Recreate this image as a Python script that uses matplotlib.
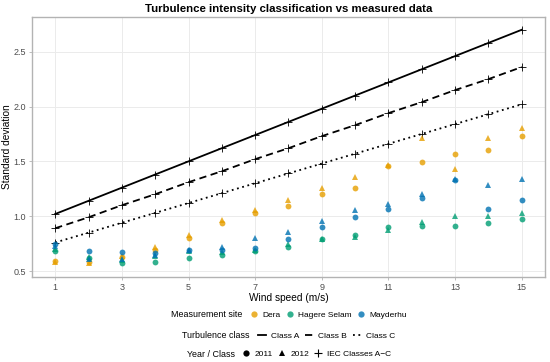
import matplotlib
matplotlib.use("Agg")
import matplotlib.pyplot as plt
from matplotlib.lines import Line2D
from matplotlib.offsetbox import HPacker

plt.rcParams['font.family'] = ['Liberation Sans', 'DejaVu Sans']

wind = [1, 2, 3, 4, 5, 6, 7, 8, 9, 10, 11, 12, 13, 14, 15]

# IEC reference curves
class_a = [1.02, 1.14, 1.26, 1.38, 1.50, 1.62, 1.74, 1.86, 1.98, 2.10, 2.22, 2.34, 2.46, 2.58, 2.70]
class_b = [0.89, 0.99, 1.10, 1.20, 1.31, 1.41, 1.52, 1.62, 1.73, 1.83, 1.94, 2.04, 2.15, 2.25, 2.36]
class_c = [0.76, 0.85, 0.94, 1.03, 1.12, 1.21, 1.30, 1.39, 1.48, 1.57, 1.66, 1.75, 1.84, 1.93, 2.02]

# measured standard deviation per site and year
dera_2011 = [0.59, 0.58, 0.63, 0.69, 0.80, 0.935, 1.025, 1.09, 1.20, 1.26, 1.46, 1.49, 1.57, 1.60, 1.73]
dera_2012 = [0.58, 0.57, 0.64, 0.72, 0.83, 0.965, 1.06, 1.15, 1.26, 1.36, 1.47, 1.71, 1.43, 1.71, 1.80]
hs_2011 = [0.68, 0.62, 0.57, 0.58, 0.615, 0.65, 0.68, 0.715, 0.79, 0.83, 0.90, 0.91, 0.91, 0.935, 0.97]
hs_2012 = [0.70, 0.63, 0.60, 0.64, 0.68, 0.67, 0.69, 0.745, 0.79, 0.81, 0.875, 0.95, 1.00, 1.00, 1.025]
may_2011 = [0.75, 0.68, 0.67, 0.66, 0.69, 0.69, 0.71, 0.79, 0.905, 0.99, 1.065, 1.17, 1.33, 1.065, 1.145]
may_2012 = [0.73, 0.61, 0.61, 0.65, 0.69, 0.715, 0.805, 0.855, 0.955, 1.055, 1.11, 1.20, 1.335, 1.285, 1.34]

sites = ['Dera', 'Hagere Selam', 'Mayderhu']
colors = {'Dera': '#E69F00', 'Hagere Selam': '#009E73', 'Mayderhu': '#0072B2'}
measured = {
    'Dera': (dera_2011, dera_2012),
    'Hagere Selam': (hs_2011, hs_2012),
    'Mayderhu': (may_2011, may_2012),
}

fig = plt.figure(figsize=(5.5, 3.62), dpi=100)
ax = fig.add_axes([0.058, 0.2356, 0.933, 0.7164])

ax.plot(wind, class_a, color='black', lw=1.3, ls='-', marker='+', ms=6, mew=0.6)
ax.plot(wind, class_b, color='black', lw=1.3, ls=(0, (4, 2.5)), marker='+', ms=6, mew=0.6)
ax.plot(wind, class_c, color='black', lw=1.3, ls=(0, (1, 2)), marker='+', ms=6, mew=0.6)

for s in sites:
    y11, y12 = measured[s]
    ax.plot(wind, y11, 'o', color=colors[s], alpha=0.8, ms=4.2, mew=0, ls='none')
    ax.plot(wind, y12, '^', color=colors[s], alpha=0.8, ms=4.8, mew=0, ls='none')

ax.set_xlim(0.3, 15.7)
ax.set_ylim(0.448, 2.813)
ax.set_xticks([1, 3, 5, 7, 9, 11, 13, 15])
ax.set_yticks([0.5, 1.0, 1.5, 2.0, 2.5])
ax.set_yticklabels(['0.5', '1.0', '1.5', '2.0', '2.5'])
ax.grid(True, color='#EBEBEB', lw=0.7)
ax.set_axisbelow(True)
for sp in ax.spines.values():
    sp.set_color('#B3B3B3')
    sp.set_linewidth(1.0)
ax.tick_params(length=2.5, width=0.6, color='#B3B3B3', labelsize=6.5,
               labelcolor='#4D4D4D', pad=2)

ax.set_xlabel('Wind speed (m/s)', fontsize=7.3, labelpad=1)
ax.set_ylabel('Standard deviation', fontsize=7.3)
ax.yaxis.set_label_coords(-0.039, 0.5)
ax.set_title('Turbulence intensity classification vs measured data',
             fontsize=8.2, fontweight='bold', pad=4)


def legend_row(handles, labels, title, y, hl):
    leg = fig.legend(handles, labels, title=title, ncol=len(handles), loc='center',
                     bbox_to_anchor=(0.525, y), frameon=False, fontsize=6,
                     title_fontsize=6.4, handlelength=hl, handletextpad=0.6,
                     columnspacing=0.7, borderaxespad=0, borderpad=0)
    # put the legend title to the left of the keys, ggplot style
    vp = leg._legend_box
    hp = HPacker(pad=0, sep=6, align='center', children=vp.get_children())
    hp.set_figure(fig)
    hp.set_offset(leg._findoffset)
    leg._legend_box = hp
    return leg


site_handles = [Line2D([], [], marker='o', ls='none', color=colors[s], alpha=0.8, ms=4.5, mew=0)
                for s in sites]
legend_row(site_handles, sites, 'Measurement site', 0.13, 0.8)

class_handles = [Line2D([], [], color='black', lw=1.3, ls='-'),
                 Line2D([], [], color='black', lw=1.3, ls=(0, (4, 2.5))),
                 Line2D([], [], color='black', lw=1.3, ls=(0, (1, 2)))]
legend_row(class_handles, ['Class A', 'Class B', 'Class C'], 'Turbulence class', 0.072, 1.0)

year_handles = [Line2D([], [], marker='o', ls='none', color='black', ms=4.5, mew=0),
                Line2D([], [], marker='^', ls='none', color='black', ms=5, mew=0),
                Line2D([], [], marker='+', ls='none', color='black', ms=6, mew=0.8)]
legend_row(year_handles, ['2011', '2012', 'IEC Classes A\u2212C'], 'Year / Class', 0.022, 0.8)

fig.savefig('out.png', dpi=100)
